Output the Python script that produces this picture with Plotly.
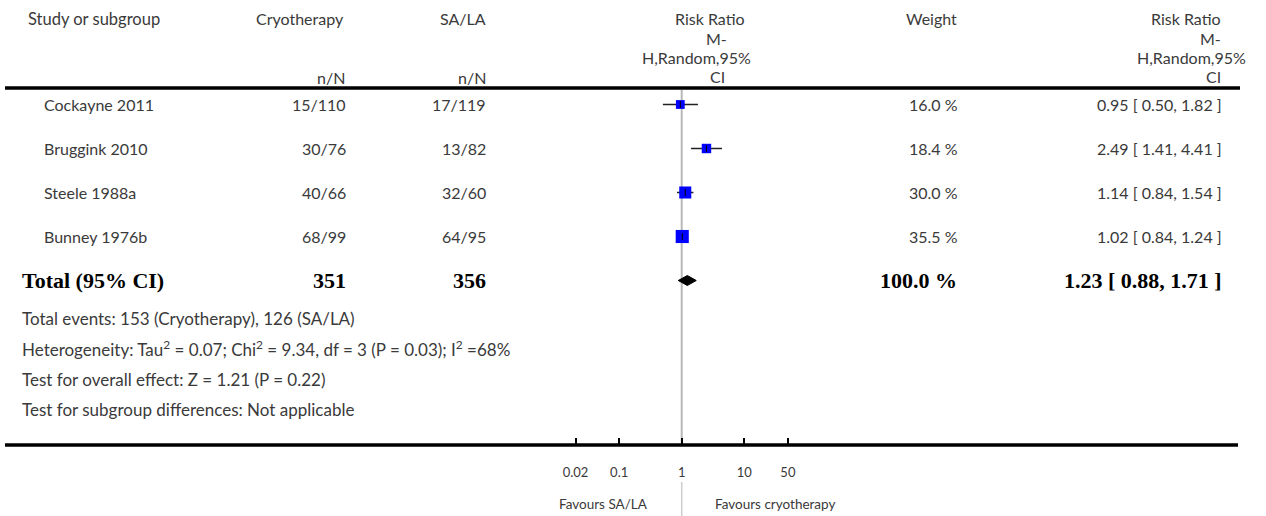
import math
import plotly.graph_objects as go

# ---------------- data ----------------
studies = ["Cockayne 2011", "Bruggink 2010", "Steele 1988a", "Bunney 1976b"]
cryo_events = [15, 30, 40, 68]
cryo_total = [110, 76, 66, 99]
sala_events = [17, 13, 32, 64]
sala_total = [119, 82, 60, 95]
weights = [16.0, 18.4, 30.0, 35.5]
rr = [0.95, 2.49, 1.14, 1.02]
rr_lo = [0.50, 1.41, 0.84, 0.84]
rr_hi = [1.82, 4.41, 1.54, 1.24]

total_label = "Total (95% CI)"
total_cryo = 351
total_sala = 356
total_weight = 100.0
total_rr = 1.23
total_lo = 0.88
total_hi = 1.71

footnotes = [
    "Total events: 153 (Cryotherapy), 126 (SA/LA)",
    "Heterogeneity: Tau<sup>2</sup> = 0.07; Chi<sup>2</sup> = 9.34, df = 3 (P = 0.03); I<sup>2</sup> =68%",
    "Test for overall effect: Z = 1.21 (P = 0.22)",
    "Test for subgroup differences: Not applicable",
]

tick_vals = [0.02, 0.1, 1, 10, 50]
tick_text = ["0.02", "0.1", "1", "10", "50"]
favours_left = "Favours SA/LA"
favours_right = "Favours cryotherapy"

# ---------------- layout helpers ----------------
W, H = 1266, 516
X_ONE = 681.7      # pixel of RR = 1
DECADE = 62.5      # pixels per decade
ROW0 = 104.5       # pixel of first study row
ROWH = 44.0        # row spacing

SANS = "Lato"
SERIF = "Liberation Serif"
TXT = "#3a3a3a"


def px(p):
    return p / W


def py(p):
    return 1 - p / H


fig = go.Figure()

n = len(studies)
rows = list(range(n))
total_row = n

# CI lines
ci_x, ci_y = [], []
for i in rows:
    ci_x += [rr_lo[i], rr_hi[i], None]
    ci_y += [i, i, None]
fig.add_trace(go.Scatter(x=ci_x, y=ci_y, mode="lines",
                         line=dict(color="#222222", width=1.5),
                         hoverinfo="skip", showlegend=False))

# squares
fig.add_trace(go.Scatter(x=rr, y=rows, mode="markers",
                         marker=dict(symbol="square", color="#0000FF", opacity=1,
                                     size=[2.2 * math.sqrt(w) for w in weights],
                                     line=dict(width=0)),
                         showlegend=False))
# small tick at point estimate
fig.add_trace(go.Scatter(x=rr, y=rows, mode="markers",
                         marker=dict(symbol="line-ns", size=5, opacity=1,
                                     line=dict(color="#000000", width=1)),
                         hoverinfo="skip", showlegend=False))

# diamond
dh = 5 / ROWH
fig.add_trace(go.Scatter(x=[total_lo, total_rr, total_hi, total_rr, total_lo],
                         y=[total_row, total_row - dh, total_row, total_row + dh, total_row],
                         mode="lines", fill="toself", fillcolor="#000000",
                         line=dict(color="#000000", width=1),
                         hoverinfo="skip", showlegend=False))

shapes = []
# header line and axis line
shapes.append(dict(type="line", xref="paper", yref="paper", x0=px(5), x1=px(1240),
                   y0=py(88), y1=py(88), line=dict(color="black", width=3.5)))
shapes.append(dict(type="line", xref="paper", yref="paper", x0=px(5), x1=px(1238),
                   y0=py(445), y1=py(445), line=dict(color="black", width=3.5)))
# null line
shapes.append(dict(type="line", xref="x", yref="paper", x0=1, x1=1,
                   y0=py(445), y1=py(90), line=dict(color="#b8b8b8", width=2), layer="below"))
shapes.append(dict(type="line", xref="x", yref="paper", x0=1, x1=1,
                   y0=py(516), y1=py(482), line=dict(color="#cccccc", width=1.5), layer="below"))

ann = []


def text(x, y, s, anchor="left", size=16, color=TXT, family=SANS, yref="paper"):
    ann.append(dict(x=px(x), y=y, xref="paper", yref=yref, text=s, showarrow=False,
                    xanchor=anchor, yanchor="middle",
                    font=dict(family=family, size=size, color=color)))


# header
text(26, py(19), "Study or subgroup", size=16.5)
text(346, py(19), "Cryotherapy", "right")
text(488, py(19), "SA/LA", "right")
text(347, py(77), "n/N", "right")
text(488, py(77), "n/N", "right")
text(959, py(19), "Weight", "right")
for s, cx, cy in [("Risk Ratio", 710, 19), ("M-", 716, 38), ("H,Random,95%", 696, 58), ("CI", 717, 76)]:
    text(cx, py(cy), s, "center")
for s, rx, cy in [("Risk Ratio", 1223, 19), ("M-", 1223, 38), ("H,Random,95%", 1248, 58), ("CI", 1223, 76)]:
    text(rx, py(cy), s, "right")

# study rows
for i in rows:
    text(42, i, studies[i], yref="y")
    text(348, i, f"{cryo_events[i]}/{cryo_total[i]}", "right", yref="y")
    text(488, i, f"{sala_events[i]}/{sala_total[i]}", "right", yref="y")
    text(960, i, f"{weights[i]:.1f} %", "right", yref="y")
    text(1224, i, f"{rr[i]:.2f} [ {rr_lo[i]:.2f}, {rr_hi[i]:.2f} ]", "right", yref="y")

# total row
BOLD = dict(size=22, color="#000000", family=SERIF)
text(20, total_row, f"<b>{total_label}</b>", yref="y", **BOLD)
text(348, total_row, f"<b>{total_cryo}</b>", "right", yref="y", **BOLD)
text(488, total_row, f"<b>{total_sala}</b>", "right", yref="y", **BOLD)
text(959, total_row, f"<b>{total_weight:.1f} %</b>", "right", yref="y", **BOLD)
text(1224, total_row, f"<b>{total_rr:.2f} [ {total_lo:.2f}, {total_hi:.2f} ]</b>", "right", yref="y", **BOLD)

# footnotes
for k, s in enumerate(footnotes):
    text(20, py(318 + 30.5 * k), s, size=17)

# favours
text(650, py(504), favours_left, "right", size=13.5)
text(713, py(504), favours_right, "left", size=13.5)

xr = [(0 - X_ONE) / DECADE, (W - X_ONE) / DECADE]
yr = [(H - ROW0) / ROWH, (0 - ROW0) / ROWH]

fig.update_layout(
    width=W, height=H, margin=dict(l=0, r=0, t=0, b=0),
    paper_bgcolor="white", plot_bgcolor="white",
    shapes=shapes, annotations=ann, showlegend=False,
    xaxis=dict(type="log", range=xr, domain=[0, 1], showgrid=False, zeroline=False,
               showline=False, anchor="free", position=py(445),
               tickmode="array", tickvals=tick_vals, ticktext=tick_text,
               ticks="inside", ticklen=7, tickwidth=2, tickcolor="black",
               ticklabelstandoff=18,
               tickfont=dict(family=SANS, size=13, color=TXT)),
    yaxis=dict(range=yr, domain=[0, 1], visible=False, showgrid=False, zeroline=False),
)

fig.write_html("out.html")
